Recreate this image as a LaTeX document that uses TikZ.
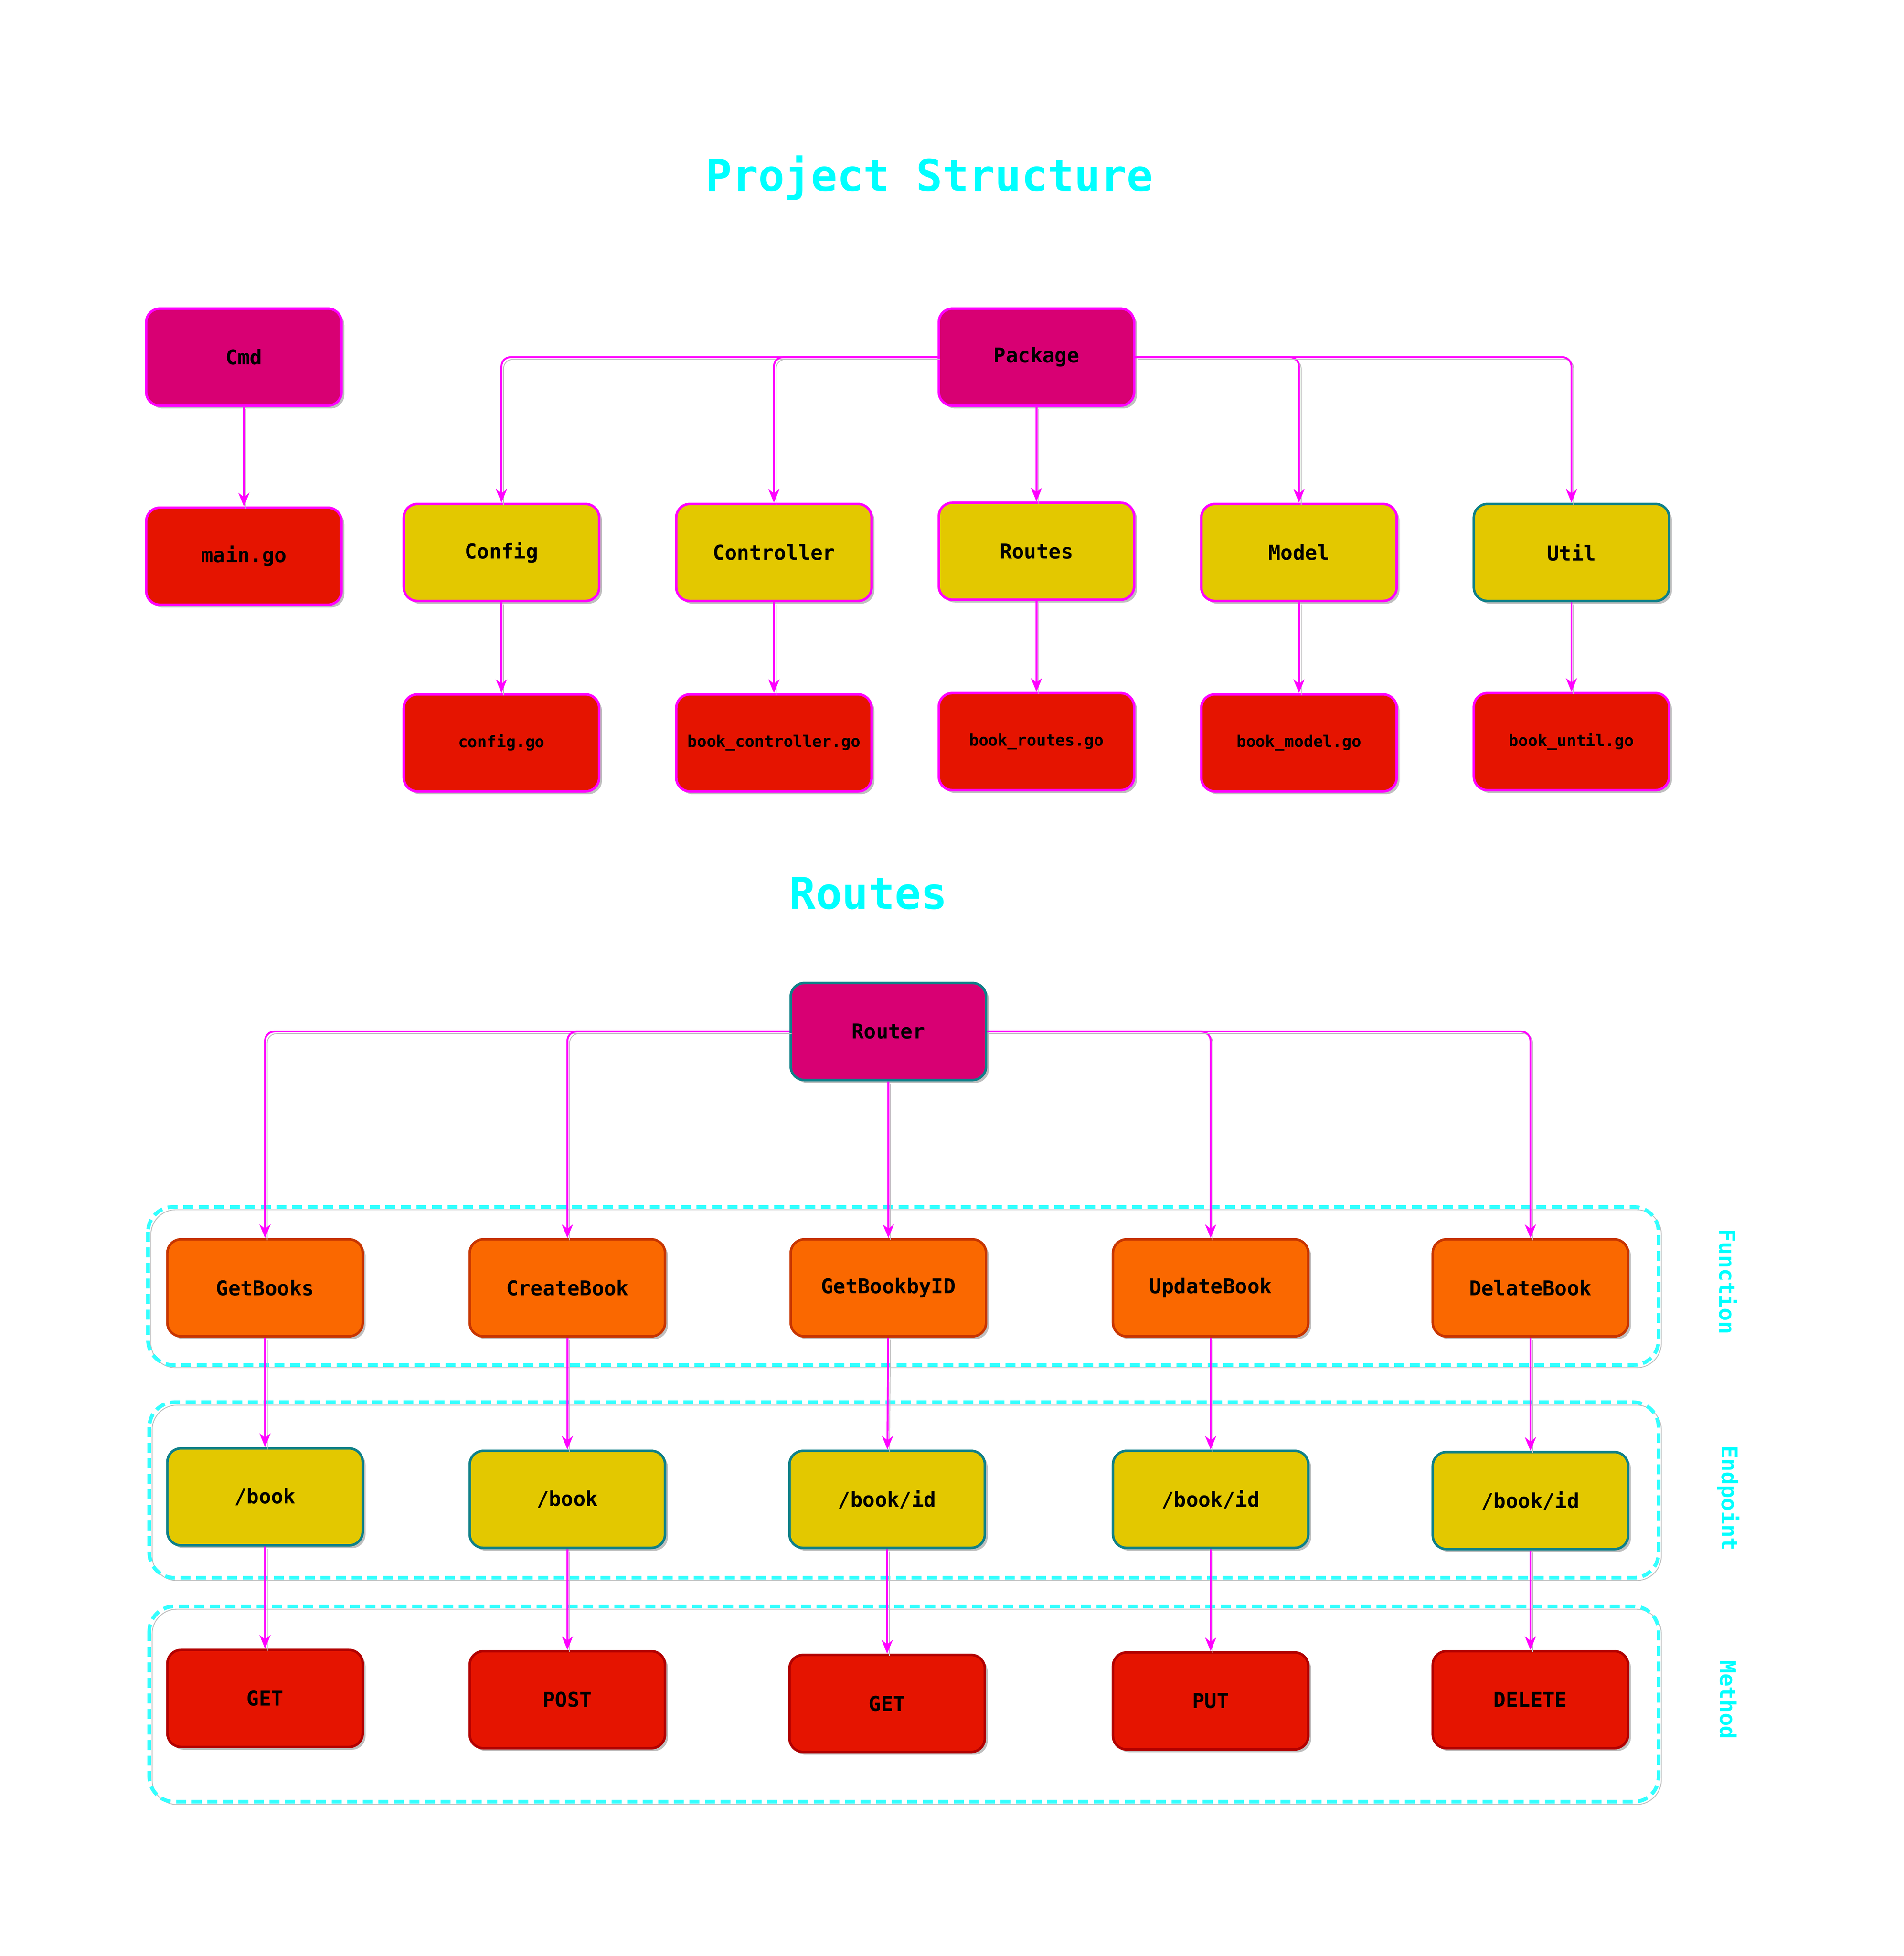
\documentclass[tikz,border=0pt]{standalone}
\usepackage{fontspec}
\setmainfont{DejaVu Sans Mono}
\usetikzlibrary{arrows.meta,shadows}

\definecolor{pinkfill}{HTML}{D80073}
\definecolor{yellowfill}{HTML}{E3C800}
\definecolor{redfill}{HTML}{E51400}
\definecolor{orangefill}{HTML}{FA6800}
\definecolor{orangeline}{HTML}{C73500}
\definecolor{redline}{HTML}{B20000}
\definecolor{tealline}{HTML}{0E8088}
\definecolor{magline}{HTML}{FF00FF}
\definecolor{titlecyan}{HTML}{00FFFF}
\definecolor{groupcyan}{HTML}{33FFFF}

\tikzset{
  box/.style={rectangle, rounded corners=2.2mm, minimum width=31.4mm, minimum height=15.6mm,
    line width=0.4mm, font=\bfseries\fontsize{9.3}{11}\selectfont,
    drop shadow={shadow xshift=0.45mm, shadow yshift=-0.45mm, fill=black!25, opacity=1}},
  pinkbox/.style={box, fill=pinkfill, draw=magline},
  dirbox/.style={box, fill=yellowfill, draw=magline},
  filebox/.style={box, fill=redfill, draw=magline, font=\bfseries\fontsize{7.3}{9}\selectfont},
  funcbox/.style={box, fill=orangefill, draw=orangeline},
  endbox/.style={box, fill=yellowfill, draw=tealline},
  methbox/.style={box, fill=redfill, draw=redline},
  link/.style={draw=magline, line width=0.3mm, rounded corners=1.5mm,
    -{Stealth[length=2.2mm,width=1.8mm,inset=0.7mm]},
    preaction={-, draw=black!25, transform canvas={xshift=0.35mm,yshift=-0.35mm}}},
  group/.style={draw=groupcyan, line width=0.6mm, dash pattern=on 1.6mm off 0.9mm, rounded corners=4mm,
    preaction={draw=black!25, transform canvas={xshift=0.45mm,yshift=-0.45mm}}},
  title/.style={text=titlecyan, font=\bfseries\fontsize{20}{24}\selectfont},
  side/.style={text=titlecyan, font=\bfseries\fontsize{10}{12}\selectfont, rotate=-90}
}

\begin{document}
\begin{tikzpicture}[x=0.2mm,y=-0.2mm]
	\useasboundingbox (0,0) rectangle (1530,1572);

	\node[title] (ptitle) at (747,143) {Project Structure};
	\node[title] (rtitle) at (698,718) {Routes};

	\node[pinkbox] (cmd) at (196,287) {Cmd};
	\node[pinkbox] (pkg) at (833,287) {Package};
	\node[dirbox,font=\bfseries\fontsize{9.3}{11}\selectfont,fill=redfill] (maingo) at (196,447) {main.go};

	\node[dirbox] (config) at (403,444) {Config};
	\node[dirbox] (ctrl) at (622,444) {Controller};
	\node[dirbox] (routes) at (833,443) {Routes};
	\node[dirbox] (model) at (1044,444) {Model};
	\node[dirbox,draw=tealline] (util) at (1263,444) {Util};

	\node[filebox] (configgo) at (403,597) {config.go};
	\node[filebox] (ctrlgo) at (622,597) {book\_controller.go};
	\node[filebox] (routesgo) at (833,596) {book\_routes.go};
	\node[filebox] (modelgo) at (1044,597) {book\_model.go};
	\node[filebox] (utilgo) at (1263,596) {book\_until.go};

	\draw[link] (cmd) -- (maingo);
	\draw[link] (pkg.west) -| (config);
	\draw[link] (pkg.west) -| (ctrl);
	\draw[link] (pkg) -- (routes);
	\draw[link] (pkg.east) -| (model);
	\draw[link] (pkg.east) -| (util);
	\foreach \a/\b in {config/configgo, ctrl/ctrlgo, routes/routesgo, model/modelgo, util/utilgo}
		\draw[link] (\a) -- (\b);

	\draw[group] (119,970) rectangle (1333,1097);
	\draw[group] (120,1127) rectangle (1333,1268);
	\draw[group] (120,1291) rectangle (1333,1448);

	\node[side] (fnlabel) at (1389,1030) {Function};
	\node[side] (eplabel) at (1389,1204) {Endpoint};
	\node[side] (mtlabel) at (1389,1366) {Method};

	\node[pinkbox,draw=tealline] (router) at (714,829) {Router};

	\foreach \n/\x/\t in {fn1/213/GetBooks, fn2/456/CreateBook, fn3/714/GetBookbyID, fn4/973/UpdateBook, fn5/1230/DelateBook}
		\node[funcbox] (\n) at (\x,1035) {\t};

	\node[endbox] (ep1) at (213,1203) {/book};
	\node[endbox] (ep2) at (456,1205) {/book};
	\node[endbox] (ep3) at (713,1205) {/book/id};
	\node[endbox] (ep4) at (973,1205) {/book/id};
	\node[endbox] (ep5) at (1230,1206) {/book/id};

	\node[methbox] (mt1) at (213,1365) {GET};
	\node[methbox] (mt2) at (456,1366) {POST};
	\node[methbox] (mt3) at (713,1369) {GET};
	\node[methbox] (mt4) at (973,1367) {PUT};
	\node[methbox] (mt5) at (1230,1366) {DELETE};

	\draw[link] (router.west) -| (fn1);
	\draw[link] (router.west) -| (fn2);
	\draw[link] (router) -- (fn3);
	\draw[link] (router.east) -| (fn4);
	\draw[link] (router.east) -| (fn5);
	\foreach \i in {1,...,5} {
		\draw[link] (fn\i) -- (ep\i);
		\draw[link] (ep\i) -- (mt\i);
	}
\end{tikzpicture}
\end{document}
